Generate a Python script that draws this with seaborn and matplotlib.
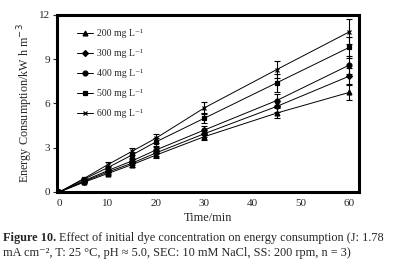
import numpy as np
import pandas as pd
import seaborn as sns
import matplotlib.pyplot as plt

# time points (min)
time = [0, 5, 10, 15, 20, 30, 45, 60]

labels = ['200 mg L⁻¹', '300 mg L⁻¹', '400 mg L⁻¹', '500 mg L⁻¹', '600 mg L⁻¹']

# energy consumption (kW h m-3)
c200 = [0, 0.65, 1.25, 1.85, 2.50, 3.75, 5.35, 6.75]
c300 = [0, 0.70, 1.35, 1.95, 2.65, 3.95, 5.80, 7.85]
c400 = [0, 0.75, 1.45, 2.10, 2.85, 4.20, 6.20, 8.60]
c500 = [0, 0.85, 1.65, 2.50, 3.40, 5.00, 7.40, 9.80]
c600 = [0, 0.90, 1.85, 2.75, 3.65, 5.70, 8.30, 10.85]

# standard deviations (n = 3)
e200 = [0, 0.05, 0.10, 0.15, 0.20, 0.25, 0.35, 0.50]
e300 = [0, 0.05, 0.10, 0.15, 0.20, 0.25, 0.40, 0.55]
e400 = [0, 0.05, 0.10, 0.15, 0.20, 0.30, 0.45, 0.60]
e500 = [0, 0.05, 0.12, 0.20, 0.25, 0.35, 0.60, 0.70]
e600 = [0, 0.06, 0.15, 0.25, 0.30, 0.40, 0.60, 0.85]

series = [c200, c300, c400, c500, c600]
errors = [e200, e300, e400, e500, e600]
marks = ['^', 'D', 'o', 's', 'x']
msize = [3.5, 3, 3.5, 3.5, 3.5]

sns.set_style('white')
plt.rcParams['font.family'] = ['Liberation Serif', 'DejaVu Serif']

fig = plt.figure(figsize=(3.93, 2.63), dpi=100)
ax = fig.add_axes([0.145, 0.27, 0.768, 0.673])

for lab, vals, err, m, ms in zip(labels, series, errors, marks, msize):
    ax.errorbar(time, vals, yerr=err, fmt='none', ecolor='black',
                elinewidth=0.8, capsize=2, capthick=0.8, zorder=2)
    df = pd.DataFrame({'time': time, 'energy': vals})
    sns.lineplot(data=df, x='time', y='energy', marker=m, color='black',
                 linewidth=0.7, markersize=ms, markeredgecolor='black',
                 markeredgewidth=0.9, label=lab, ax=ax, zorder=3)

ax.set_xlim(-0.5, 62)
ax.set_ylim(0, 12)
ax.set_xticks([0, 10, 20, 30, 40, 50, 60])
ax.set_yticks([0, 3, 6, 9, 12])
ax.tick_params(axis='y', labelsize=8, length=3, width=0.8, direction='out',
               left=True, pad=2)
ax.tick_params(axis='x', labelsize=8, length=0, pad=5)
ax.set_xlabel('Time/min', fontsize=8.8, labelpad=3)
ax.set_ylabel('Energy Consumption/kW h m$^{-3}$', fontsize=8.7, labelpad=3)
for s in ax.spines.values():
    s.set_linewidth(2.2)
    s.set_color('black')

ax.legend(loc='upper left', frameon=False, fontsize=7,
          bbox_to_anchor=(0.053, 0.94), borderaxespad=0, handlelength=1.65,
          handletextpad=0.4, labelspacing=1.13)

# caption
t1 = fig.text(0.008, 0.095, 'Figure 10.', fontsize=8.8, fontweight='bold', va='center')
fig.canvas.draw()
bb = t1.get_window_extent().transformed(fig.transFigure.inverted())
fig.text(bb.x1 + 0.008, 0.095,
         'Effect of initial dye concentration on energy consumption (J: 1.78',
         fontsize=8.8, va='center')
fig.text(0.008, 0.038,
         'mA cm⁻², T: 25 °C, pH ≈ 5.0, SEC: 10 mM NaCl, SS: 200 rpm, n = 3)',
         fontsize=8.8, va='center')

fig.savefig('out.png', dpi=100)
